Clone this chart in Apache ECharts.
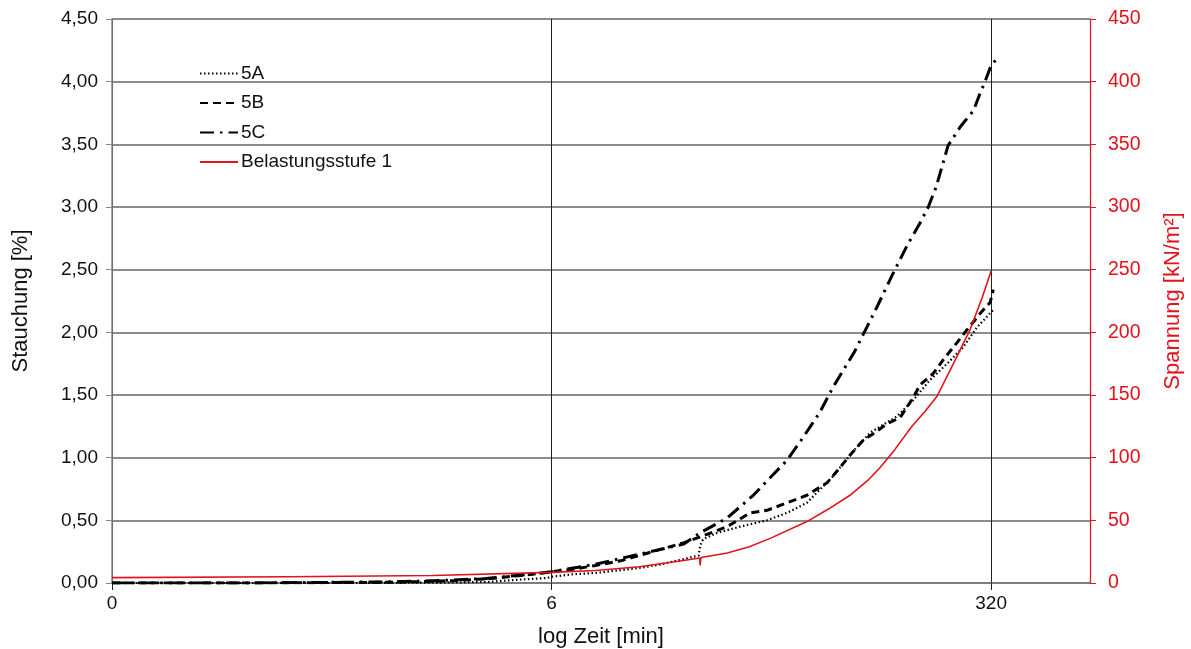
<!DOCTYPE html>
<html><head><meta charset="utf-8">
<script src="https://cdn.jsdelivr.net/npm/echarts@6/dist/echarts.min.js"></script>
<style>html,body{margin:0;padding:0;background:#fff}#c{width:1191px;height:649px}</style>
</head><body><div id="c"></div>
<script>
// x positions are in axis units: 0 -> "0", 1 -> "6", 2 -> "320" (log Zeit)
const xTickLabels = ['0', '6', '320'];
const seriesNames = ['5A', '5B', '5C', 'Belastungsstufe 1'];
const s5A = [[0,0],[0.3,0],[0.6,0],[0.8,0.005],[0.86,0.01],[0.94,0.03],[0.99,0.04],[1.0,0.05],[1.05,0.07],[1.1,0.08],[1.15,0.1],[1.2,0.12],[1.25,0.15],[1.3,0.19],[1.335,0.22],[1.338,0.30],[1.345,0.35],[1.377,0.40],[1.429,0.45],[1.49,0.50],[1.536,0.56],[1.581,0.64],[1.64,0.85],[1.686,1.05],[1.725,1.2],[1.786,1.33],[1.823,1.46],[1.861,1.62],[1.9,1.75],[1.936,1.88],[1.968,2.04],[2.005,2.18]];
const s5B = [[0,0],[0.3,0],[0.6,0.005],[0.7,0.01],[0.78,0.02],[0.86,0.035],[0.93,0.06],[0.98,0.08],[1.0,0.09],[1.05,0.11],[1.1,0.14],[1.16,0.18],[1.2,0.22],[1.25,0.27],[1.3,0.32],[1.34,0.37],[1.4,0.45],[1.452,0.56],[1.49,0.58],[1.536,0.64],[1.581,0.70],[1.627,0.80],[1.656,0.92],[1.679,1.02],[1.709,1.14],[1.736,1.2],[1.763,1.27],[1.793,1.32],[1.823,1.48],[1.838,1.58],[1.868,1.67],[1.891,1.78],[1.923,1.92],[1.945,2.02],[1.975,2.15],[1.998,2.24],[2.005,2.34]];
const s5C = [[0,0],[0.3,0],[0.5,0.005],[0.65,0.01],[0.75,0.02],[0.85,0.035],[0.95,0.07],[1.0,0.09],[1.05,0.12],[1.1,0.15],[1.15,0.19],[1.2,0.23],[1.25,0.27],[1.3,0.31],[1.338,0.40],[1.4,0.52],[1.459,0.70],[1.5,0.85],[1.536,0.98],[1.572,1.16],[1.61,1.36],[1.64,1.56],[1.69,1.85],[1.74,2.2],[1.777,2.47],[1.81,2.7],[1.838,2.87],[1.857,3.0],[1.875,3.16],[1.902,3.49],[1.93,3.64],[1.946,3.71],[1.96,3.77],[1.973,3.89],[1.985,3.99],[2.0,4.13],[2.01,4.17]];
const sLoad = [[0,4.3],[0.4,5],[0.73,6],[1.0,8.5],[1.1,10],[1.2,13],[1.3,18],[1.337,20],[1.338,14],[1.34,20.3],[1.4,24],[1.45,29],[1.5,36],[1.581,49],[1.63,59],[1.679,70],[1.72,82],[1.747,92],[1.78,106],[1.82,125],[1.85,137],[1.877,149],[1.91,172],[1.952,202],[1.98,228],[2.0,249]];

const FONT = 'Liberation Sans, Arial, sans-serif';
const RED = '#e3121b';
const chart = echarts.init(document.getElementById('c'), null, {renderer: 'canvas'});
chart.setOption({
  animation: false,
  backgroundColor: '#fff',
  grid: {left: 112, right: 101, top: 19, bottom: 66, containLabel: false, outerBoundsMode: 'none'},
  legend: {
    orient: 'vertical', left: 194, top: 59, itemGap: 10.5, itemWidth: 38, itemHeight: 19,
    itemStyle: {opacity: 0},
    textStyle: {fontFamily: FONT, fontSize: 19, color: '#111', padding: [0,0,0,-2]},
    data: seriesNames
  },
  xAxis: {
    type: 'value', min: 0, max: 2.225, interval: 1,
    name: 'log Zeit [min]', nameLocation: 'middle', nameGap: 43,
    nameTextStyle: {fontFamily: FONT, fontSize: 22, color: '#111'},
    axisLine: {lineStyle: {color: '#777', width: 1.5}},
    axisTick: {show: true, length: 7, lineStyle: {color: '#222'}, customValues: [0, 1, 2]},
    axisLabel: {fontFamily: FONT, fontSize: 19, color: '#111', margin: 11,
      customValues: [0, 1, 2], formatter: v => xTickLabels[Math.round(v)] || ''},
    splitLine: {show: true, lineStyle: {color: '#222', width: 1}}
  },
  yAxis: [{
    type: 'value', min: 0, max: 4.5, interval: 0.5,
    name: 'Stauchung [%]', nameLocation: 'middle', nameGap: 80,
    nameTextStyle: {fontFamily: FONT, fontSize: 22, color: '#111'},
    axisLine: {show: true, lineStyle: {color: '#888', width: 1.5}},
    axisTick: {show: true, length: 6, lineStyle: {color: '#888'}},
    axisLabel: {fontFamily: FONT, fontSize: 19, color: '#111', margin: 14,
      formatter: v => v.toFixed(2).replace('.', ',')},
    splitLine: {show: true, lineStyle: {color: '#666', width: 1.5}}
  }, {
    type: 'value', min: 0, max: 450, interval: 50, position: 'right',
    name: 'Spannung [kN/m²]', nameLocation: 'middle', nameGap: 72,
    nameTextStyle: {fontFamily: FONT, fontSize: 22, color: RED},
    axisLine: {show: true, lineStyle: {color: RED, width: 1.2}},
    axisTick: {show: true, length: 6, lineStyle: {color: RED}},
    axisLabel: {fontFamily: FONT, fontSize: 19.5, color: RED, margin: 18},
    splitLine: {show: false}
  }],
  series: [
    {name: '5A', type: 'line', data: s5A, symbol: 'none', yAxisIndex: 0, z: 3,
      lineStyle: {color: '#000', width: 2.2, type: [1.5, 2.5]}, itemStyle: {color: '#000'}},
    {name: '5B', type: 'line', data: s5B, symbol: 'none', yAxisIndex: 0, z: 3,
      lineStyle: {color: '#000', width: 3, type: [8, 5]}, itemStyle: {color: '#000'}},
    {name: '5C', type: 'line', data: s5C, symbol: 'none', yAxisIndex: 0, z: 3,
      lineStyle: {color: '#000', width: 3, type: [14, 6, 2.5, 6]}, itemStyle: {color: '#000'}},
    {name: 'Belastungsstufe 1', type: 'line', data: sLoad, symbol: 'none', yAxisIndex: 1, z: 4,
      lineStyle: {color: RED, width: 1.6}, itemStyle: {color: RED}}
  ]
});
</script></body></html>
